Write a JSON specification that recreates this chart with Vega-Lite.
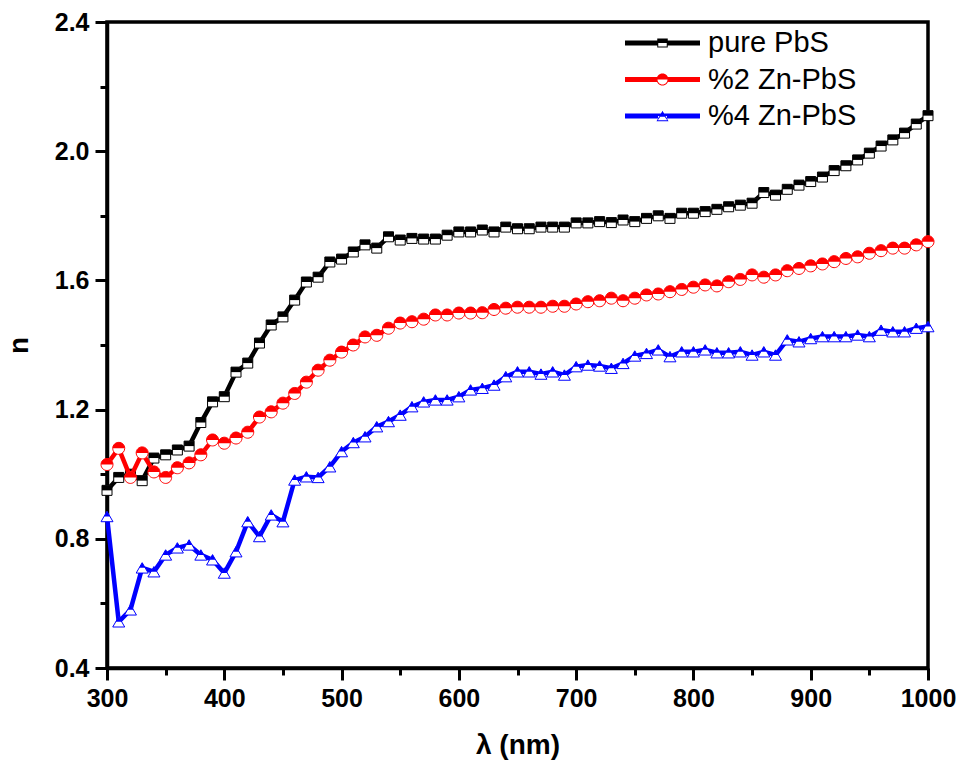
{
  "$schema": "https://vega.github.io/schema/vega-lite/v6.json",
  "width": 821,
  "height": 646,
  "autosize": "none",
  "padding": {"left": 107, "top": 22, "right": 31, "bottom": 101},
  "background": "white",
  "config": {
    "view": {"stroke": "black", "strokeWidth": 3.5},
    "font": "Liberation Sans",
    "axis": {
      "domainColor": "black", "domainWidth": 3.5, "tickColor": "black", "tickWidth": 3, "tickSize": 12,
      "labelFont": "Liberation Sans", "labelFontWeight": "bold", "labelFontSize": 25, "labelColor": "black",
      "labelPadding": 6, "labelFlush": false, "labelOverlap": false,
      "titleFont": "Liberation Sans", "titleFontSize": 28, "titleFontWeight": "bold", "titleColor": "black",
      "grid": false
    }
  },
  "data": {"values": [
    {"s":"pure PbS","x":300,"n":0.95},{"s":"pure PbS","x":310,"n":0.99},{"s":"pure PbS","x":320,"n":1.0},{"s":"pure PbS","x":330,"n":0.98},{"s":"pure PbS","x":340,"n":1.05},{"s":"pure PbS","x":350,"n":1.06},{"s":"pure PbS","x":360,"n":1.075},{"s":"pure PbS","x":370,"n":1.087},{"s":"pure PbS","x":380,"n":1.16},{"s":"pure PbS","x":390,"n":1.224},{"s":"pure PbS","x":400,"n":1.24},{"s":"pure PbS","x":410,"n":1.316},{"s":"pure PbS","x":420,"n":1.344},{"s":"pure PbS","x":430,"n":1.406},{"s":"pure PbS","x":440,"n":1.462},{"s":"pure PbS","x":450,"n":1.487},{"s":"pure PbS","x":460,"n":1.539},{"s":"pure PbS","x":470,"n":1.595},{"s":"pure PbS","x":480,"n":1.61},{"s":"pure PbS","x":490,"n":1.657},{"s":"pure PbS","x":500,"n":1.666},{"s":"pure PbS","x":510,"n":1.688},{"s":"pure PbS","x":520,"n":1.71},{"s":"pure PbS","x":530,"n":1.70},{"s":"pure PbS","x":540,"n":1.735},{"s":"pure PbS","x":550,"n":1.725},{"s":"pure PbS","x":560,"n":1.73},{"s":"pure PbS","x":570,"n":1.728},{"s":"pure PbS","x":580,"n":1.728},{"s":"pure PbS","x":590,"n":1.74},{"s":"pure PbS","x":600,"n":1.75},{"s":"pure PbS","x":610,"n":1.75},{"s":"pure PbS","x":620,"n":1.756},{"s":"pure PbS","x":630,"n":1.75},{"s":"pure PbS","x":640,"n":1.765},{"s":"pure PbS","x":650,"n":1.76},{"s":"pure PbS","x":660,"n":1.76},{"s":"pure PbS","x":670,"n":1.765},{"s":"pure PbS","x":680,"n":1.765},{"s":"pure PbS","x":690,"n":1.765},{"s":"pure PbS","x":700,"n":1.778},{"s":"pure PbS","x":710,"n":1.778},{"s":"pure PbS","x":720,"n":1.782},{"s":"pure PbS","x":730,"n":1.779},{"s":"pure PbS","x":740,"n":1.787},{"s":"pure PbS","x":750,"n":1.782},{"s":"pure PbS","x":760,"n":1.792},{"s":"pure PbS","x":770,"n":1.80},{"s":"pure PbS","x":780,"n":1.792},{"s":"pure PbS","x":790,"n":1.808},{"s":"pure PbS","x":800,"n":1.808},{"s":"pure PbS","x":810,"n":1.813},{"s":"pure PbS","x":820,"n":1.82},{"s":"pure PbS","x":830,"n":1.828},{"s":"pure PbS","x":840,"n":1.833},{"s":"pure PbS","x":850,"n":1.839},{"s":"pure PbS","x":860,"n":1.872},{"s":"pure PbS","x":870,"n":1.864},{"s":"pure PbS","x":880,"n":1.882},{"s":"pure PbS","x":890,"n":1.895},{"s":"pure PbS","x":900,"n":1.906},{"s":"pure PbS","x":910,"n":1.92},{"s":"pure PbS","x":920,"n":1.94},{"s":"pure PbS","x":930,"n":1.955},{"s":"pure PbS","x":940,"n":1.973},{"s":"pure PbS","x":950,"n":1.994},{"s":"pure PbS","x":960,"n":2.016},{"s":"pure PbS","x":970,"n":2.035},{"s":"pure PbS","x":980,"n":2.056},{"s":"pure PbS","x":990,"n":2.084},{"s":"pure PbS","x":1000,"n":2.11},
    {"s":"%2 Zn-PbS","x":300,"n":1.03},{"s":"%2 Zn-PbS","x":310,"n":1.08},{"s":"%2 Zn-PbS","x":320,"n":0.99},{"s":"%2 Zn-PbS","x":330,"n":1.066},{"s":"%2 Zn-PbS","x":340,"n":1.007},{"s":"%2 Zn-PbS","x":350,"n":0.99},{"s":"%2 Zn-PbS","x":360,"n":1.02},{"s":"%2 Zn-PbS","x":370,"n":1.035},{"s":"%2 Zn-PbS","x":380,"n":1.06},{"s":"%2 Zn-PbS","x":390,"n":1.106},{"s":"%2 Zn-PbS","x":400,"n":1.096},{"s":"%2 Zn-PbS","x":410,"n":1.112},{"s":"%2 Zn-PbS","x":420,"n":1.13},{"s":"%2 Zn-PbS","x":430,"n":1.177},{"s":"%2 Zn-PbS","x":440,"n":1.193},{"s":"%2 Zn-PbS","x":450,"n":1.22},{"s":"%2 Zn-PbS","x":460,"n":1.25},{"s":"%2 Zn-PbS","x":470,"n":1.285},{"s":"%2 Zn-PbS","x":480,"n":1.322},{"s":"%2 Zn-PbS","x":490,"n":1.353},{"s":"%2 Zn-PbS","x":500,"n":1.378},{"s":"%2 Zn-PbS","x":510,"n":1.40},{"s":"%2 Zn-PbS","x":520,"n":1.425},{"s":"%2 Zn-PbS","x":530,"n":1.43},{"s":"%2 Zn-PbS","x":540,"n":1.452},{"s":"%2 Zn-PbS","x":550,"n":1.468},{"s":"%2 Zn-PbS","x":560,"n":1.472},{"s":"%2 Zn-PbS","x":570,"n":1.48},{"s":"%2 Zn-PbS","x":580,"n":1.493},{"s":"%2 Zn-PbS","x":590,"n":1.493},{"s":"%2 Zn-PbS","x":600,"n":1.499},{"s":"%2 Zn-PbS","x":610,"n":1.499},{"s":"%2 Zn-PbS","x":620,"n":1.50},{"s":"%2 Zn-PbS","x":630,"n":1.51},{"s":"%2 Zn-PbS","x":640,"n":1.514},{"s":"%2 Zn-PbS","x":650,"n":1.517},{"s":"%2 Zn-PbS","x":660,"n":1.517},{"s":"%2 Zn-PbS","x":670,"n":1.517},{"s":"%2 Zn-PbS","x":680,"n":1.52},{"s":"%2 Zn-PbS","x":690,"n":1.52},{"s":"%2 Zn-PbS","x":700,"n":1.527},{"s":"%2 Zn-PbS","x":710,"n":1.534},{"s":"%2 Zn-PbS","x":720,"n":1.537},{"s":"%2 Zn-PbS","x":730,"n":1.545},{"s":"%2 Zn-PbS","x":740,"n":1.537},{"s":"%2 Zn-PbS","x":750,"n":1.545},{"s":"%2 Zn-PbS","x":760,"n":1.555},{"s":"%2 Zn-PbS","x":770,"n":1.558},{"s":"%2 Zn-PbS","x":780,"n":1.565},{"s":"%2 Zn-PbS","x":790,"n":1.572},{"s":"%2 Zn-PbS","x":800,"n":1.579},{"s":"%2 Zn-PbS","x":810,"n":1.586},{"s":"%2 Zn-PbS","x":820,"n":1.583},{"s":"%2 Zn-PbS","x":830,"n":1.596},{"s":"%2 Zn-PbS","x":840,"n":1.603},{"s":"%2 Zn-PbS","x":850,"n":1.617},{"s":"%2 Zn-PbS","x":860,"n":1.61},{"s":"%2 Zn-PbS","x":870,"n":1.617},{"s":"%2 Zn-PbS","x":880,"n":1.63},{"s":"%2 Zn-PbS","x":890,"n":1.637},{"s":"%2 Zn-PbS","x":900,"n":1.645},{"s":"%2 Zn-PbS","x":910,"n":1.651},{"s":"%2 Zn-PbS","x":920,"n":1.658},{"s":"%2 Zn-PbS","x":930,"n":1.668},{"s":"%2 Zn-PbS","x":940,"n":1.673},{"s":"%2 Zn-PbS","x":950,"n":1.684},{"s":"%2 Zn-PbS","x":960,"n":1.692},{"s":"%2 Zn-PbS","x":970,"n":1.70},{"s":"%2 Zn-PbS","x":980,"n":1.70},{"s":"%2 Zn-PbS","x":990,"n":1.71},{"s":"%2 Zn-PbS","x":1000,"n":1.72},
    {"s":"%4 Zn-PbS","x":300,"n":0.869},{"s":"%4 Zn-PbS","x":310,"n":0.543},{"s":"%4 Zn-PbS","x":320,"n":0.58},{"s":"%4 Zn-PbS","x":330,"n":0.71},{"s":"%4 Zn-PbS","x":340,"n":0.698},{"s":"%4 Zn-PbS","x":350,"n":0.75},{"s":"%4 Zn-PbS","x":360,"n":0.772},{"s":"%4 Zn-PbS","x":370,"n":0.781},{"s":"%4 Zn-PbS","x":380,"n":0.75},{"s":"%4 Zn-PbS","x":390,"n":0.735},{"s":"%4 Zn-PbS","x":400,"n":0.694},{"s":"%4 Zn-PbS","x":410,"n":0.76},{"s":"%4 Zn-PbS","x":420,"n":0.853},{"s":"%4 Zn-PbS","x":430,"n":0.807},{"s":"%4 Zn-PbS","x":440,"n":0.874},{"s":"%4 Zn-PbS","x":450,"n":0.853},{"s":"%4 Zn-PbS","x":460,"n":0.982},{"s":"%4 Zn-PbS","x":470,"n":0.992},{"s":"%4 Zn-PbS","x":480,"n":0.99},{"s":"%4 Zn-PbS","x":490,"n":1.023},{"s":"%4 Zn-PbS","x":500,"n":1.07},{"s":"%4 Zn-PbS","x":510,"n":1.098},{"s":"%4 Zn-PbS","x":520,"n":1.116},{"s":"%4 Zn-PbS","x":530,"n":1.147},{"s":"%4 Zn-PbS","x":540,"n":1.163},{"s":"%4 Zn-PbS","x":550,"n":1.183},{"s":"%4 Zn-PbS","x":560,"n":1.209},{"s":"%4 Zn-PbS","x":570,"n":1.224},{"s":"%4 Zn-PbS","x":580,"n":1.23},{"s":"%4 Zn-PbS","x":590,"n":1.23},{"s":"%4 Zn-PbS","x":600,"n":1.24},{"s":"%4 Zn-PbS","x":610,"n":1.261},{"s":"%4 Zn-PbS","x":620,"n":1.266},{"s":"%4 Zn-PbS","x":630,"n":1.276},{"s":"%4 Zn-PbS","x":640,"n":1.302},{"s":"%4 Zn-PbS","x":650,"n":1.317},{"s":"%4 Zn-PbS","x":660,"n":1.317},{"s":"%4 Zn-PbS","x":670,"n":1.31},{"s":"%4 Zn-PbS","x":680,"n":1.317},{"s":"%4 Zn-PbS","x":690,"n":1.307},{"s":"%4 Zn-PbS","x":700,"n":1.333},{"s":"%4 Zn-PbS","x":710,"n":1.338},{"s":"%4 Zn-PbS","x":720,"n":1.335},{"s":"%4 Zn-PbS","x":730,"n":1.328},{"s":"%4 Zn-PbS","x":740,"n":1.343},{"s":"%4 Zn-PbS","x":750,"n":1.366},{"s":"%4 Zn-PbS","x":760,"n":1.374},{"s":"%4 Zn-PbS","x":770,"n":1.385},{"s":"%4 Zn-PbS","x":780,"n":1.364},{"s":"%4 Zn-PbS","x":790,"n":1.379},{"s":"%4 Zn-PbS","x":800,"n":1.379},{"s":"%4 Zn-PbS","x":810,"n":1.385},{"s":"%4 Zn-PbS","x":820,"n":1.376},{"s":"%4 Zn-PbS","x":830,"n":1.376},{"s":"%4 Zn-PbS","x":840,"n":1.379},{"s":"%4 Zn-PbS","x":850,"n":1.369},{"s":"%4 Zn-PbS","x":860,"n":1.379},{"s":"%4 Zn-PbS","x":870,"n":1.369},{"s":"%4 Zn-PbS","x":880,"n":1.416},{"s":"%4 Zn-PbS","x":890,"n":1.41},{"s":"%4 Zn-PbS","x":900,"n":1.42},{"s":"%4 Zn-PbS","x":910,"n":1.426},{"s":"%4 Zn-PbS","x":920,"n":1.426},{"s":"%4 Zn-PbS","x":930,"n":1.426},{"s":"%4 Zn-PbS","x":940,"n":1.431},{"s":"%4 Zn-PbS","x":950,"n":1.426},{"s":"%4 Zn-PbS","x":960,"n":1.446},{"s":"%4 Zn-PbS","x":970,"n":1.441},{"s":"%4 Zn-PbS","x":980,"n":1.441},{"s":"%4 Zn-PbS","x":990,"n":1.452},{"s":"%4 Zn-PbS","x":1000,"n":1.457}
  ]},
  "layer": [
    {
      "encoding": {
        "x": {"field": "x", "type": "quantitative", "scale": {"domain": [300, 1000]},
              "axis": {"values": [300, 400, 500, 600, 700, 800, 900, 1000], "format": "d", "title": "λ (nm)", "titleY": 63, "titleBaseline": "top"}},
        "y": {"field": "n", "type": "quantitative", "scale": {"domain": [0.4, 2.4], "zero": false},
              "axis": {"values": [0.4, 0.8, 1.2, 1.6, 2.0, 2.4], "format": ".1f", "title": "n", "titleX": -74}}
      },
      "layer": [
        {"transform": [{"filter": "datum.s === 'pure PbS'"}],
         "layer": [
           {"mark": {"type": "line", "color": "black", "strokeWidth": 4.5}},
           {"mark": {"type": "point", "shape": "square", "size": 100, "filled": true, "fill": "white", "stroke": "black", "strokeWidth": 1, "opacity": 1}},
           {"mark": {"type": "point", "shape": "M-1,-1H1V0H-1Z", "size": 100, "filled": true, "fill": "black", "strokeWidth": 0, "opacity": 1}}
         ]},
        {"transform": [{"filter": "datum.s === '%2 Zn-PbS'"}],
         "layer": [
           {"mark": {"type": "line", "color": "#ff0000", "strokeWidth": 4.5}},
           {"mark": {"type": "point", "shape": "M1,0A1,1 0 1 1 -1,0A1,1 0 1 1 1,0Z", "size": 144, "filled": true, "fill": "white", "stroke": "#ff0000", "strokeWidth": 1, "opacity": 1}},
           {"mark": {"type": "point", "shape": "M-1,0A1,1 0 0 1 1,0Z", "size": 144, "filled": true, "fill": "#ff0000", "strokeWidth": 0, "opacity": 1}}
         ]},
        {"transform": [{"filter": "datum.s === '%4 Zn-PbS'"}],
         "layer": [
           {"mark": {"type": "line", "color": "#0000ff", "strokeWidth": 4.5}},
           {"mark": {"type": "point", "shape": "M0,-0.866L1,0.866L-1,0.866Z", "size": 144, "filled": true, "fill": "white", "stroke": "#0000ff", "strokeWidth": 1, "opacity": 1}},
           {"mark": {"type": "point", "shape": "M0,-0.866L0.5,0L-0.5,0Z", "size": 144, "filled": true, "fill": "#0000ff", "strokeWidth": 0, "opacity": 1}}
         ]},
        {"mark": {"type": "point", "filled": true, "opacity": 0},
         "encoding": {
           "color": {"field": "s", "type": "nominal",
                     "scale": {"domain": ["pure PbS", "%2 Zn-PbS", "%4 Zn-PbS"], "range": ["black", "#ff0000", "#0000ff"]},
                     "legend": {"title": null, "orient": "none", "legendX": 518, "legendY": 4, "symbolSize": 5625, "symbolStrokeWidth": 0, "symbolOpacity": 1, "clipHeight": 34, "rowPadding": 2.5, "labelFontSize": 29, "labelFont": "Liberation Sans", "labelColor": "black", "labelOffset": 8, "labelLimit": 300, "padding": 0}},
           "shape": {"field": "s", "type": "nominal",
                     "scale": {"domain": ["pure PbS", "%2 Zn-PbS", "%4 Zn-PbS"],
                               "range": [
                                 "M-1,-0.067H1V0H-1Z M-1,0H-0.14V0.067H-1Z M0.14,0H1V0.067H0.14Z M-0.14,-0.12H0.14V0H-0.14Z M-0.14,0H-0.113V0.12H-0.14Z M0.113,0H0.14V0.12H0.113Z M-0.14,0.093H0.14V0.12H-0.14Z",
                                 "M-1,-0.067H1V0H-1Z M-1,0H-0.15V0.067H-1Z M0.15,0H1V0.067H0.15Z M-0.16,0A0.16,0.16 0 0 1 0.16,0Z M0.16,0A0.16,0.16 0 0 1 -0.16,0L-0.133,0A0.133,0.133 0 0 0 0.133,0Z",
                                 "M-1,-0.067H1V0H-1Z M-1,0H-0.118V0.067H-1Z M0.118,0H1V0.067H0.118Z M0,-0.14L0.08,0L-0.08,0Z M-0.08,0L0.08,0L0.16,0.14L-0.16,0.14Z M-0.06,0.02L-0.125,0.115L0.125,0.115L0.06,0.02Z"
                               ]},
                     "legend": {"title": null, "orient": "none", "legendX": 518, "legendY": 4, "symbolSize": 5625, "symbolStrokeWidth": 0, "symbolOpacity": 1, "clipHeight": 34, "rowPadding": 2.5, "labelFontSize": 29, "labelFont": "Liberation Sans", "labelColor": "black", "labelOffset": 8, "labelLimit": 300, "padding": 0}}
         }}
      ]
    },
    {
      "mark": {"type": "point", "opacity": 0},
      "encoding": {
        "x": {"field": "x", "type": "quantitative", "scale": {"domain": [300, 1000]},
              "axis": {"values": [350, 450, 550, 650, 750, 850, 950], "labels": false, "domain": false, "tickSize": 7, "title": null, "orient": "bottom"}},
        "y": {"field": "n", "type": "quantitative", "scale": {"domain": [0.4, 2.4], "zero": false},
              "axis": {"values": [0.6, 1.0, 1.4, 1.8, 2.2], "labels": false, "domain": false, "tickSize": 7, "title": null, "orient": "left"}}
      }
    }
  ],
  "resolve": {"axis": {"x": "independent", "y": "independent"}}
}
